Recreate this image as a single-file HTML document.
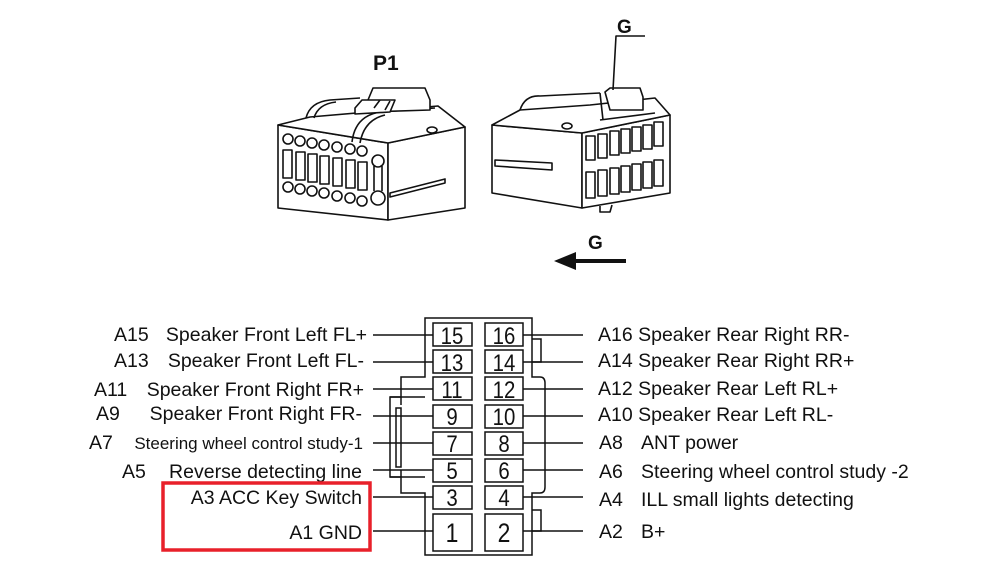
<!DOCTYPE html>
<html><head><meta charset="utf-8"><style>
html,body{margin:0;padding:0;background:#fff;}
svg{display:block;}
text{font-family:"Liberation Sans",Arial,sans-serif;fill:#111;}
</style></head><body>
<svg width="1000" height="565" viewBox="0 0 1000 565" xmlns="http://www.w3.org/2000/svg">
<g fill="none" stroke="#111" stroke-width="1.6" stroke-linejoin="round">
<!-- P1 connector -->
<polygon points="278,125 388,143 388,220 278,208" fill="#fff"/>
<polygon points="388,143 465,127 465,208 388,220" fill="#fff"/>
<polygon points="278,125 310,117 438,106 465,127 388,143" fill="#fff"/>
<path d="M306,118 Q310,102 330,100 L360,98"/>
<path d="M314,118 Q318,104 336,102"/>
<path d="M352,142 Q355,116 380,112 L435,108"/>
<path d="M360,143 Q364,120 385,115"/>
<polygon points="368,100 373,88 425,88 430,100 430,110 368,112" fill="#fff"/>
<polygon points="355,108 362,100 395,100 390,112 355,114" fill="#fff"/>
<path d="M374,108 L380,100 M385,110 L390,101"/>
<ellipse cx="432" cy="130" rx="5" ry="3"/>
<polygon points="390,193 445,179 445,183 390,197"/>
<g>
<circle cx="288" cy="139" r="5"/><circle cx="300" cy="141" r="5"/><circle cx="312" cy="143" r="5"/><circle cx="324" cy="145" r="5"/><circle cx="337" cy="147" r="5"/><circle cx="350" cy="149" r="5"/><circle cx="362" cy="151" r="5"/>
<circle cx="288" cy="187" r="5"/><circle cx="300" cy="189" r="5"/><circle cx="312" cy="191" r="5"/><circle cx="324" cy="193" r="5"/><circle cx="337" cy="196" r="5"/><circle cx="350" cy="198" r="5"/><circle cx="362" cy="201" r="5"/>
<rect x="283" y="150" width="9" height="28"/><rect x="296" y="152" width="9" height="28"/><rect x="308" y="154" width="9" height="28"/><rect x="320" y="156" width="9" height="28"/><rect x="333" y="158" width="9" height="28"/><rect x="346" y="160" width="9" height="28"/><rect x="358" y="162" width="9" height="28"/>
<circle cx="378" cy="161" r="6"/><circle cx="378" cy="198" r="7"/><path d="M374,166 L374,191 M382,166 L382,191"/>
</g>
<!-- right connector -->
<polygon points="492,125 582,133 582,208 492,193" fill="#fff"/>
<polygon points="582,133 670,115 670,193 582,208" fill="#fff"/>
<polygon points="492,125 520,110 590,105 655,98 670,115 582,133" fill="#fff"/>
<path d="M520,110 Q525,95 540,96 L600,93"/>
<path d="M600,93 L603,120 M600,120 L655,113"/>
<polygon points="605,92 610,88 640,88 643,97 643,110 610,110" fill="#fff"/>
<ellipse cx="567" cy="126" rx="5" ry="3"/>
<polygon points="495,160 552,163 552,170 495,166"/>
<path d="M600,206 L600,212 L610,212 L612,205"/>
<g>
<rect x="586" y="136" width="9" height="24"/><rect x="598" y="134" width="9" height="24"/><rect x="610" y="131" width="9" height="24"/><rect x="621" y="129" width="9" height="24"/><rect x="632" y="127" width="9" height="24"/><rect x="643" y="125" width="9" height="24"/><rect x="654" y="122" width="9" height="24"/>
<rect x="586" y="172" width="9" height="26"/><rect x="598" y="170" width="9" height="26"/><rect x="610" y="168" width="9" height="26"/><rect x="621" y="166" width="9" height="26"/><rect x="632" y="164" width="9" height="26"/><rect x="643" y="162" width="9" height="26"/><rect x="654" y="160" width="9" height="26"/>
</g>
<path d="M613,90 L616,36 L645,36"/>
</g>
<text x="373" y="70" font-size="21" font-weight="bold">P1</text>
<text x="617" y="33" font-size="19" font-weight="bold">G</text>
<text x="588" y="249" font-size="19" font-weight="bold">G</text>
<line x1="572" y1="261" x2="626" y2="261" stroke="#111" stroke-width="4"/>
<polygon points="554,261 576,252 576,270" fill="#111"/>

<!-- pin diagram -->
<g fill="none" stroke="#111" stroke-width="1.5">
<path d="M425,318 L532,318 L532,377 L540,377 Q545,377 545,383 L545,487 Q545,493 540,493 L532,493 L532,555 L425,555 L425,493 L401,493 L401,477 L390,477 L390,397 L401,397 L401,377 L425,377 Z"/>
<path d="M390,397 L425,397 M390,477 L425,477 M401,397 L401,405 M401,470 L401,477"/>
<path d="M396,408 L401,408 L401,467 L396,467 Z"/>
<path d="M532,339 L541,339 L541,362 L532,362"/>
<path d="M532,510 L541,510 L541,531 L532,531"/>
<g>
<rect x="433" y="323" width="39" height="23"/><rect x="485" y="323" width="38" height="23"/>
<rect x="433" y="350" width="39" height="23"/><rect x="485" y="350" width="38" height="23"/>
<rect x="433" y="377" width="39" height="23"/><rect x="485" y="377" width="38" height="23"/>
<rect x="433" y="405" width="39" height="23"/><rect x="485" y="405" width="38" height="23"/>
<rect x="433" y="432" width="39" height="23"/><rect x="485" y="432" width="38" height="23"/>
<rect x="433" y="459" width="39" height="23"/><rect x="485" y="459" width="38" height="23"/>
<rect x="433" y="486" width="39" height="23"/><rect x="485" y="486" width="38" height="23"/>
<rect x="433" y="514" width="39" height="37"/><rect x="485" y="514" width="38" height="37"/>
</g>
<g>
<line x1="373" y1="335" x2="433" y2="335"/><line x1="373" y1="362" x2="433" y2="362"/>
<line x1="373" y1="389" x2="433" y2="389"/><line x1="373" y1="416" x2="433" y2="416"/>
<line x1="373" y1="443" x2="433" y2="443"/><line x1="373" y1="470" x2="433" y2="470"/>
<line x1="373" y1="497" x2="433" y2="497"/><line x1="373" y1="531" x2="433" y2="531"/>
<line x1="523" y1="335" x2="583" y2="335"/><line x1="523" y1="362" x2="583" y2="362"/>
<line x1="523" y1="389" x2="583" y2="389"/><line x1="523" y1="416" x2="583" y2="416"/>
<line x1="523" y1="443" x2="583" y2="443"/><line x1="523" y1="470" x2="583" y2="470"/>
<line x1="523" y1="497" x2="583" y2="497"/><line x1="523" y1="531" x2="583" y2="531"/>
</g>
</g>
<g font-size="24" text-anchor="middle">
<text x="452" y="344" transform="translate(452 0) scale(0.85 1) translate(-452 0)">15</text><text x="504" y="344" transform="translate(504 0) scale(0.85 1) translate(-504 0)">16</text>
<text x="452" y="371" transform="translate(452 0) scale(0.85 1) translate(-452 0)">13</text><text x="504" y="371" transform="translate(504 0) scale(0.85 1) translate(-504 0)">14</text>
<text x="452" y="398" transform="translate(452 0) scale(0.85 1) translate(-452 0)">11</text><text x="504" y="398" transform="translate(504 0) scale(0.85 1) translate(-504 0)">12</text>
<text x="452" y="425" transform="translate(452 0) scale(0.85 1) translate(-452 0)">9</text><text x="504" y="425" transform="translate(504 0) scale(0.85 1) translate(-504 0)">10</text>
<text x="452" y="452" transform="translate(452 0) scale(0.85 1) translate(-452 0)">7</text><text x="504" y="452" transform="translate(504 0) scale(0.85 1) translate(-504 0)">8</text>
<text x="452" y="479" transform="translate(452 0) scale(0.85 1) translate(-452 0)">5</text><text x="504" y="479" transform="translate(504 0) scale(0.85 1) translate(-504 0)">6</text>
<text x="452" y="506" transform="translate(452 0) scale(0.85 1) translate(-452 0)">3</text><text x="504" y="506" transform="translate(504 0) scale(0.85 1) translate(-504 0)">4</text>
<text x="452" y="542" font-size="27" transform="translate(452 0) scale(0.85 1) translate(-452 0)">1</text><text x="504" y="542" font-size="27" transform="translate(504 0) scale(0.85 1) translate(-504 0)">2</text>
</g>
<g font-size="19.5">
<text x="114" y="341">A15</text><text x="114" y="367">A13</text>
<text x="94" y="396">A11</text><text x="96" y="420">A9</text>
<text x="89" y="449">A7</text><text x="122" y="478">A5</text>
</g>
<g font-size="19.5" text-anchor="end">
<text x="367" y="341">Speaker Front Left FL+</text>
<text x="364" y="367">Speaker Front Left FL-</text>
<text x="364" y="396">Speaker Front Right FR+</text>
<text x="362" y="420">Speaker Front Right FR-</text>
<text x="362" y="478">Reverse detecting line</text>
<text x="362" y="504">A3 ACC Key Switch</text>
<text x="362" y="539">A1 GND</text>
</g>
<text x="363" y="449" font-size="17" text-anchor="end">Steering wheel control study-1</text>
<g font-size="19.5">
<text x="598" y="341">A16 Speaker Rear Right RR-</text>
<text x="598" y="367">A14 Speaker Rear Right RR+</text>
<text x="598" y="395">A12 Speaker Rear Left RL+</text>
<text x="598" y="421">A10 Speaker Rear Left RL-</text>
<text x="599" y="449">A8</text><text x="641" y="449">ANT power</text>
<text x="599" y="478">A6</text><text x="641" y="478">Steering wheel control study -2</text>
<text x="599" y="506">A4</text><text x="641" y="506">ILL small lights detecting</text>
<text x="599" y="538">A2</text><text x="641" y="538">B+</text>
</g>
<rect x="163" y="483" width="207" height="67" fill="none" stroke="#e8202a" stroke-width="3.5"/>
</svg>
</body></html>
